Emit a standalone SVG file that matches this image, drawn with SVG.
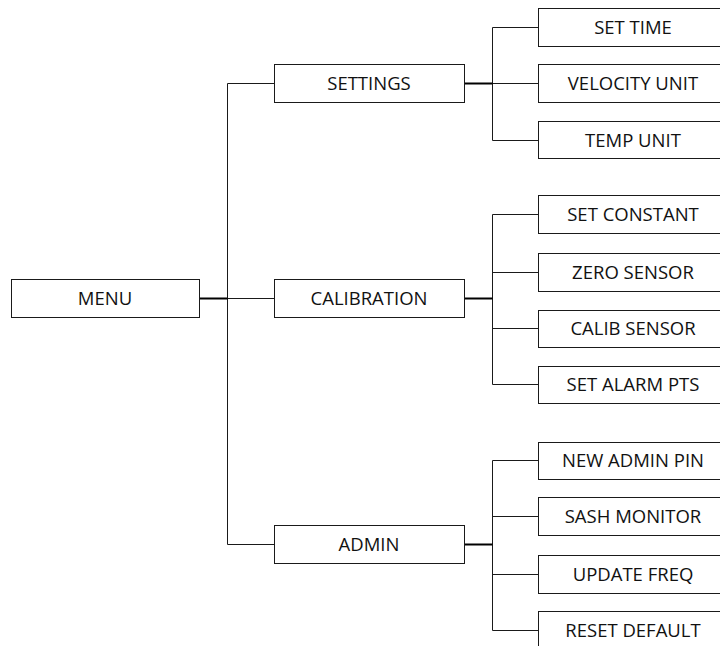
<svg xmlns="http://www.w3.org/2000/svg" width="720" height="646" viewBox="0 0 720 646">
<style>
.box{fill:#fff;stroke:#1a1a1a;stroke-width:1}
.lbl{font-family:"Open Sans","Liberation Sans",sans-serif;font-size:18.5px;fill:#111;text-anchor:middle}
.ln{fill:none;stroke:#1a1a1a;stroke-width:1}
.lk{fill:none;stroke:#000;stroke-width:2}
</style>
<rect width="720" height="646" fill="#fff"/>
<g id="connectors">
<path class="ln" d="M227.5 83.5V544.5M227.5 83.5H274M227.5 298.5H274M227.5 544.5H274"/>
<path class="lk" d="M199 298.5H227.5"/>
<path class="ln" d="M492.5 27.5V140.5M492.5 27.5H538M492.5 83.5H538M492.5 140.5H538"/>
<path class="lk" d="M464 83.5H492.5"/>
<path class="ln" d="M492.5 214.5V384.5M492.5 214.5H538M492.5 272.5H538M492.5 328.5H538M492.5 384.5H538"/>
<path class="lk" d="M464 298.5H492.5"/>
<path class="ln" d="M492.5 460.5V630.5M492.5 460.5H538M492.5 516.5H538M492.5 574.5H538M492.5 630.5H538"/>
<path class="lk" d="M464 544.5H492.5"/>
</g>
<g id="menu"><rect class="box" x="11.5" y="279.5" width="188" height="38"/><text class="lbl" x="105" y="305">MENU</text></g>
<g id="settings"><rect class="box" x="274.5" y="64.5" width="190" height="38"/><text class="lbl" x="369" y="90">SETTINGS</text></g>
<g id="calibration"><rect class="box" x="274.5" y="279.5" width="190" height="38"/><text class="lbl" x="369" y="305">CALIBRATION</text></g>
<g id="admin"><rect class="box" x="274.5" y="525.5" width="190" height="38"/><text class="lbl" x="369" y="551">ADMIN</text></g>
<g id="set-time"><rect class="box" x="538.5" y="8.5" width="190" height="38"/><text class="lbl" x="633" y="34">SET TIME</text></g>
<g id="velocity-unit"><rect class="box" x="538.5" y="64.5" width="190" height="38"/><text class="lbl" x="633" y="90">VELOCITY UNIT</text></g>
<g id="temp-unit"><rect class="box" x="538.5" y="121.5" width="190" height="37"/><text class="lbl" x="633" y="146.5">TEMP UNIT</text></g>
<g id="set-constant"><rect class="box" x="538.5" y="195.5" width="190" height="38"/><text class="lbl" x="633" y="221">SET CONSTANT</text></g>
<g id="zero-sensor"><rect class="box" x="538.5" y="253.5" width="190" height="38"/><text class="lbl" x="633" y="279">ZERO SENSOR</text></g>
<g id="calib-sensor"><rect class="box" x="538.5" y="310.5" width="190" height="37"/><text class="lbl" x="633" y="335">CALIB SENSOR</text></g>
<g id="set-alarm-pts"><rect class="box" x="538.5" y="366.5" width="190" height="37"/><text class="lbl" x="633" y="391">SET ALARM PTS</text></g>
<g id="new-admin-pin"><rect class="box" x="538.5" y="442.5" width="190" height="37"/><text class="lbl" x="633" y="467">NEW ADMIN PIN</text></g>
<g id="sash-monitor"><rect class="box" x="538.5" y="497.5" width="190" height="38"/><text class="lbl" x="633" y="523">SASH MONITOR</text></g>
<g id="update-freq"><rect class="box" x="538.5" y="555.5" width="190" height="38"/><text class="lbl" x="633" y="581">UPDATE FREQ</text></g>
<g id="reset-default"><rect class="box" x="538.5" y="611.5" width="190" height="38"/><text class="lbl" x="633" y="637">RESET DEFAULT</text></g>
</svg>
